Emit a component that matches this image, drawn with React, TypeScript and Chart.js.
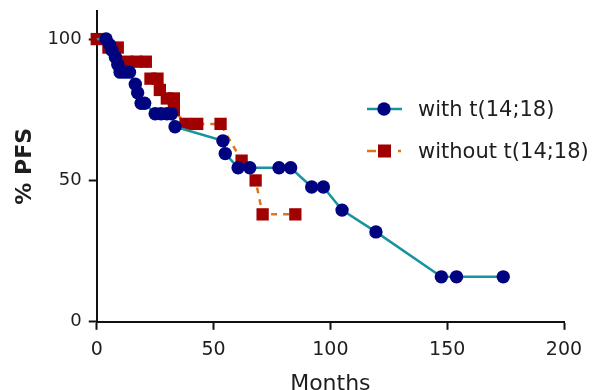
import React, { useEffect, useRef } from 'react';
import { Chart, registerables } from 'chart.js';

Chart.register(...registerables);

const withMonths = [0, 4, 5.5, 6.5, 8, 9, 10, 12, 14, 16.5, 17.5, 19, 20.5, 25, 27.5, 30, 32, 33.5, 54, 55, 60.5, 65.5, 78, 83, 92, 97, 105, 119.5, 147.5, 154, 174];
const withPFS = [100, 100, 98, 96, 93.6, 91, 88.3, 88.3, 88.3, 84, 81, 77.3, 77.3, 73.6, 73.6, 73.6, 73.6, 69, 64, 59.5, 54.5, 54.5, 54.5, 54.5, 47.7, 47.7, 39.5, 31.8, 15.9, 15.9, 15.9];
const withoutMonths = [0, 5, 9, 13, 17, 21, 23, 26, 27, 30, 33, 33, 38, 43, 53, 62, 68, 71, 85];
const withoutPFS = [100, 97, 97, 92, 92, 92, 86, 86, 82, 79, 79, 75, 70, 70, 70, 57, 50, 38, 38];
const xTicks = [0, 50, 100, 150, 200];
const yTicks = [0, 50, 100];
const legendLabels = ['with t(14;18)', 'without t(14;18)'];

const FONT = '"DejaVu Sans", "Liberation Sans", Arial, sans-serif';
const TEAL = '#17949f';
const NAVY = '#00037f';
const ORANGE = '#d8781a';
const DARKRED = '#a00000';
const TEXT = '#1e1e1e';
const SHIFT = 7;

const legendPlugin = {
  id: 'customLegend',
  afterDraw(chart: any) {
    const ctx = chart.ctx as CanvasRenderingContext2D;
    ctx.save();
    ctx.translate(0, SHIFT);
    ctx.strokeStyle = TEAL;
    ctx.lineWidth = 2.5;
    ctx.beginPath();
    ctx.moveTo(367, 109);
    ctx.lineTo(402, 109);
    ctx.stroke();
    ctx.fillStyle = NAVY;
    ctx.beginPath();
    ctx.arc(384, 109, 6.7, 0, Math.PI * 2);
    ctx.fill();
    ctx.strokeStyle = ORANGE;
    ctx.lineWidth = 2.5;
    ctx.beginPath();
    ctx.moveTo(367, 151);
    ctx.lineTo(376, 151);
    ctx.moveTo(398, 151);
    ctx.lineTo(401, 151);
    ctx.stroke();
    ctx.fillStyle = DARKRED;
    ctx.fillRect(378, 144.5, 13, 13);
    ctx.fillStyle = TEXT;
    ctx.font = `21px ${FONT}`;
    ctx.textBaseline = 'alphabetic';
    ctx.textAlign = 'left';
    ctx.fillText(legendLabels[0], 418, 116);
    ctx.fillText(legendLabels[1], 418, 158);
    ctx.restore();
  },
};

export default function App() {
  const ref = useRef<HTMLCanvasElement | null>(null);
  useEffect(() => {
    if (!ref.current) return;
    const chart = new Chart(ref.current, {
      type: 'line',
      data: {
        datasets: [
          {
            label: legendLabels[0],
            data: withMonths.map((m, i) => ({ x: m, y: withPFS[i] })),
            borderColor: TEAL,
            borderWidth: 2.5,
            backgroundColor: NAVY,
            pointBackgroundColor: NAVY,
            pointBorderColor: NAVY,
            pointBorderWidth: 0,
            pointRadius: withMonths.map((_, i) => (i === 0 ? 0 : 6.7)),
            pointStyle: 'circle',
            tension: 0,
            fill: false,
            clip: false,
          } as any,
          {
            label: legendLabels[1],
            data: withoutMonths.map((m, i) => ({ x: m, y: withoutPFS[i] })),
            borderColor: ORANGE,
            borderWidth: 2.5,
            borderDash: [6, 6],
            backgroundColor: DARKRED,
            pointBackgroundColor: DARKRED,
            pointBorderColor: DARKRED,
            pointBorderWidth: 0,
            pointRadius: 8.7,
            pointStyle: 'rect',
            tension: 0,
            fill: false,
            clip: false,
          } as any,
        ],
      },
      options: {
        responsive: false,
        animation: false,
        layout: { padding: { left: 12, right: 36, top: 0, bottom: 0 } },
        plugins: { legend: { display: false }, tooltip: { enabled: false } },
        scales: {
          x: {
            type: 'linear',
            min: 0,
            max: 200,
            afterBuildTicks: (s: any) => {
              s.ticks = xTicks.map((v) => ({ value: v }));
            },
            grid: { display: true, drawOnChartArea: false, drawTicks: true, tickLength: 8, tickWidth: 2, tickColor: '#111' },
            border: { display: true, color: '#111', width: 2 },
            ticks: { color: TEXT, font: { family: FONT, size: 19 }, padding: 9, maxRotation: 0 },
            title: { display: true, text: 'Months', color: TEXT, font: { family: FONT, size: 22 }, padding: { top: 0, bottom: 0 } },
          },
          y: {
            type: 'linear',
            min: 0,
            max: 110,
            afterBuildTicks: (s: any) => {
              s.ticks = yTicks.map((v) => ({ value: v }));
            },
            grid: { display: true, drawOnChartArea: false, drawTicks: true, tickLength: 8, tickWidth: 2, tickColor: '#111' },
            border: { display: true, color: '#111', width: 2 },
            ticks: { color: TEXT, font: { family: FONT, size: 18 }, padding: 7 },
            title: { display: true, text: '% PFS', color: TEXT, font: { family: FONT, size: 22, weight: 'bold' }, padding: { top: 0, bottom: 2 } },
          },
        },
      } as any,
      plugins: [legendPlugin],
    });
    return () => chart.destroy();
  }, []);
  return (
    <div style={{ position: 'fixed', left: 0, top: 0, width: 600, height: 390, overflow: 'hidden', background: '#fff' }}>
      <canvas ref={ref} width={600} height={404} style={{ display: 'block', marginTop: -SHIFT }} />
    </div>
  );
}
